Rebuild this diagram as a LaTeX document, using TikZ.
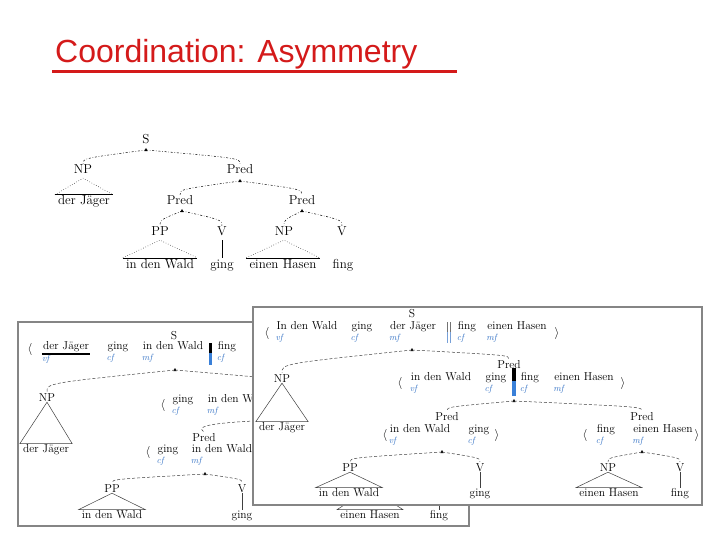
\documentclass[tikz,border=0pt]{standalone}
\usepackage{fontspec}
\newfontfamily\titlefont{Liberation Sans}
\usetikzlibrary{arrows.meta,positioning,calc}
\definecolor{titlered}{HTML}{D41A1A}
\definecolor{tagblue}{HTML}{3C78C8}
\definecolor{barblue}{HTML}{3A80D8}
\definecolor{framegray}{HTML}{858585}
\tikzset{
  cat/.style  ={inner sep=1pt,font=\fontsize{11.5}{13}\selectfont,text height=8pt,text depth=0pt},
  wd/.style   ={inner sep=1pt,font=\fontsize{11.5}{13}\selectfont,text height=8pt,text depth=2.5pt},
  tag/.style  ={inner sep=0pt,anchor=north west,text=tagblue,font=\fontsize{9}{10}\selectfont\itshape},
  ang/.style  ={inner sep=0pt,font=\fontsize{12}{14}\selectfont},
  tw/.style   ={inner sep=1pt,font=\fontsize{13}{15}\selectfont,text height=9pt,text depth=3pt},
  dbr/.style  ={draw=black!75,line width=.5pt,dash pattern=on 3pt off 2pt},
  ted/.style  ={draw=black,line width=.5pt,dash pattern=on 2pt off 1.8pt on .6pt off 1.8pt},
  tri/.style  ={draw=black!75,line width=.5pt},
  frame/.style={draw=framegray,line width=1.2pt,fill=white},
}
% small head mark below a mother node
\newcommand\hmark[1]{\fill ([yshift=2pt]#1) -- ++(-1.7pt,-3.2pt) -- ++(3.4pt,0pt) -- cycle;}
% branch from a head mark down to a daughter
\newcommand\br[3][dbr]{\draw[#1] (#2) .. controls ($(#3 |- #2)!.6!(#3)$) .. (#3);}
% roof over a word group
\newcommand\roof[2]{\draw[tri] (#1) -- ([xshift=-2pt]#2.north west) -- ([xshift=2pt]#2.north east) -- cycle;}
\newcommand\troof[2]{\draw[line width=.5pt,dotted] ([xshift=-2pt]#2.north west) -- (#1.south) -- ([xshift=2pt]#2.north east);
  \draw[line width=.6pt] ([xshift=-2pt]#2.north west) -- ([xshift=2pt]#2.north east);}
\begin{document}
\begin{tikzpicture}[x=1pt,y=1pt]
  \useasboundingbox (0,0) rectangle (720,-540);
  \fill[white] (0,0) rectangle (720,-540);
  % title
  \node[anchor=base west,inner sep=0pt,text=titlered,font=\titlefont\fontsize{32}{36}\selectfont]
        (title) at (55,-63) {Coordination: Asymmetry};
  \draw[titlered,line width=3pt] (52,-71.5) -- (457,-71.5);

  % top tree
  \node[tw] (s0) at (146,-141) {S};
  \coordinate (h0) at (146,-150); \hmark{h0}
  \node[tw] (np0) at (83,-171) {NP};
  \node[tw] (pr0) at (240,-171) {Pred};
  \br[ted]{h0}{np0.north}
  \br[ted]{h0}{pr0.north}
  \node[tw] (w0) at (84,-202) {der Jäger};
  \troof{np0}{w0}
  \coordinate (h01) at (240,-181); \hmark{h01}
  \node[tw] (pl0) at (180,-202) {Pred};
  \node[tw] (pr1) at (302,-202) {Pred};
  \br[ted]{h01}{pl0.north}
  \br[ted]{h01}{pr1.north}
  \coordinate (h02) at (182,-211); \hmark{h02}
  \coordinate (h03) at (302,-211); \hmark{h03}
  \node[tw] (pp0) at (160,-233) {PP};
  \node[tw] (v0) at (222,-233) {V};
  \node[tw] (np1) at (284,-233) {NP};
  \node[tw] (v1) at (342,-233) {V};
  \br[ted]{h02}{pp0.north}
  \br[ted]{h02}{v0.north}
  \br[ted]{h03}{np1.north}
  \br[ted]{h03}{v1.north}
  \node[tw] (w1) at (160,-265) {in den Wald};
  \node[tw] (w2) at (222,-265) {ging};
  \node[tw] (w3) at (283,-265) {einen Hasen};
  \node[tw] (w4) at (343,-265) {fing};
  \troof{pp0}{w1}
  \troof{np1}{w3}
  \draw[line width=.6pt] (v0) -- (w2);

  % left box
  \draw[frame] (18,-322) rectangle (469,-526);
  \node[cat] (lS) at (174,-335) {S};
  \node[ang] (lla1) at (30,-349) {$\langle$};
  \node[wd] (la1) at (66,-347) {der Jäger};
  \node[tag] (lt1) at ([yshift=-1.5pt]la1.south west) {vf};
  \draw[line width=1.3pt] ([yshift=-.5pt]la1.south west) -- ([yshift=-.5pt]la1.south east);
  \node[wd] (la2) at (118,-347) {ging};
  \node[tag] (lt2) at ([yshift=-1pt]la2.south west) {cf};
  \node[wd] (la3) at (173,-347) {in den Wald};
  \node[tag] (lt3) at ([yshift=-1pt]la3.south west) {mf};
  \fill[black] (209,-343) rectangle (212,-353);
  \fill[barblue] (209,-353) rectangle (212,-365);
  \node[wd] (la4) at (227,-347) {fing};
  \node[tag] (lt4) at ([yshift=-1pt]la4.south west) {cf};
  \coordinate (lh1) at (175,-370); \hmark{lh1}
  \node[cat] (lNP) at (47,-397) {NP};
  \coordinate (lx1) at (330,-392);
  \br{lh1}{lNP.north}
  \br{lh1}{lx1}
  \node[wd] (lw1) at (46,-450) {der Jäger};
  \roof{lNP.south}{lw1}
  \node[ang] (lla2) at (163,-405) {$\langle$};
  \node[wd] (lb1) at (183,-400) {ging};
  \node[tag] (ltb1) at ([yshift=-1pt]lb1.south west) {cf};
  \node[wd] (lb2) at (238,-400) {in den Wald};
  \node[tag] (ltb2) at ([yshift=-1pt]lb2.south west) {mf};
  \coordinate (lh2) at (330,-418);
  \node[cat] (lPr) at (204,-437) {Pred};
  \draw[dbr] (lh2) .. controls (240,-421) and (190,-423) .. (lPr.north);
  \node[ang] (lla3) at (148,-452) {$\langle$};
  \node[wd] (lc1) at (168,-450) {ging};
  \node[tag] (ltc1) at ([yshift=-1pt]lc1.south west) {cf};
  \node[wd] (lc2) at (222,-450) {in den Wald};
  \node[tag] (ltc2) at ([yshift=-1pt]lc2.south west) {mf};
  \coordinate (lh3) at (205,-474); \hmark{lh3}
  \node[cat] (lPP) at (112,-488) {PP};
  \node[cat] (lV) at (242,-488) {V};
  \br{lh3}{lPP.north}
  \br{lh3}{lV.north}
  \node[wd] (lw2) at (112,-516) {in den Wald};
  \roof{lPP.south}{lw2}
  \node[wd] (lw3) at (242,-516) {ging};
  \draw[tri] (lV) -- (lw3);
  \coordinate (lx3) at (370,-488);
  \node[wd] (lw4) at (370,-516) {einen Hasen};
  \roof{lx3}{lw4}
  \coordinate (lx4) at (439,-488);
  \node[wd] (lw5) at (439,-516) {fing};
  \draw[tri] (lx4) -- (lw5);

  % right box
  \draw[frame] (253,-307) rectangle (702,-505);
  \node[cat] (rS) at (412,-313) {S};
  \node[ang] (rla1) at (267,-333) {$\langle$};
  \node[wd] (a1) at (307,-327) {In den Wald};
  \node[tag] (ta1) at ([yshift=-1pt]a1.south west) {vf};
  \node[wd] (a2) at (362,-327) {ging};
  \node[tag] (ta2) at ([yshift=-1pt]a2.south west) {cf};
  \node[wd] (a3) at (413,-327) {der Jäger};
  \node[tag] (ta3) at ([yshift=-1pt]a3.south west) {mf};
  \draw[black!55,line width=.6pt] (447,-322) -- (447,-332) (450,-322) -- (450,-332);
  \draw[tagblue!70,line width=.6pt] (447,-332) -- (447,-343) (450,-332) -- (450,-343);
  \node[wd] (a4) at (467,-327) {fing};
  \node[tag] (ta4) at ([yshift=-1pt]a4.south west) {cf};
  \node[wd] (a5) at (517,-327) {einen Hasen};
  \node[tag] (ta5) at ([yshift=-1pt]a5.south west) {mf};
  \node[ang] (rra1) at (557,-333) {$\rangle$};
  \coordinate (rh1) at (412,-350); \hmark{rh1}
  \node[cat] (rNP) at (282,-378) {NP};
  \node[cat] (rPred) at (509,-364) {Pred};
  \br{rh1}{rNP.north}
  \br{rh1}{rPred.north}
  \node[wd] (rw1) at (282,-428) {der Jäger};
  \roof{rNP.south}{rw1}
  \node[ang] (rla2) at (400,-383) {$\langle$};
  \node[wd] (b1) at (441,-378) {in den Wald};
  \node[tag] (tb1) at ([yshift=-1pt]b1.south west) {vf};
  \node[wd] (b2) at (496,-378) {ging};
  \node[tag] (tb2) at ([yshift=-1pt]b2.south west) {cf};
  \fill[black] (512,-368) rectangle (516,-381);
  \fill[barblue] (512,-381) rectangle (516,-396);
  \node[wd] (b3) at (530,-378) {fing};
  \node[tag] (tb3) at ([yshift=-1pt]b3.south west) {cf};
  \node[wd] (b4) at (584,-378) {einen Hasen};
  \node[tag] (tb4) at ([yshift=-1pt]b4.south west) {mf};
  \node[ang] (rra2) at (623,-383) {$\rangle$};
  \coordinate (rh2) at (514,-401); \hmark{rh2}
  \node[cat] (rPl) at (447,-416) {Pred};
  \node[cat] (rPr) at (642,-416) {Pred};
  \br{rh2}{rPl.north}
  \br{rh2}{rPr.north}
  \node[ang] (rla3) at (385,-435) {$\langle$};
  \node[wd] (c1) at (420,-430) {in den Wald};
  \node[tag] (tc1) at ([yshift=-1pt]c1.south west) {vf};
  \node[wd] (c2) at (479,-430) {ging};
  \node[tag] (tc2) at ([yshift=-1pt]c2.south west) {cf};
  \node[ang] (rra3) at (497,-435) {$\rangle$};
  \node[ang] (rla4) at (585,-435) {$\langle$};
  \node[wd] (d1) at (606,-430) {fing};
  \node[tag] (td1) at ([yshift=-1pt]d1.south west) {cf};
  \node[wd] (d2) at (663,-430) {einen Hasen};
  \node[tag] (td2) at ([yshift=-1pt]d2.south west) {mf};
  \node[ang] (rra4) at (697,-435) {$\rangle$};
  \coordinate (rh3) at (442,-452); \hmark{rh3}
  \coordinate (rh4) at (642,-452); \hmark{rh4}
  \node[cat] (rPP) at (350,-467) {PP};
  \node[cat] (rV1) at (480,-467) {V};
  \node[cat] (rNP2) at (608,-467) {NP};
  \node[cat] (rV2) at (680,-467) {V};
  \br{rh3}{rPP.north}
  \br{rh3}{rV1.north}
  \br{rh4}{rNP2.north}
  \br{rh4}{rV2.north}
  \node[wd] (e1) at (349,-494) {in den Wald};
  \node[wd] (e2) at (480,-494) {ging};
  \node[wd] (e3) at (609,-494) {einen Hasen};
  \node[wd] (e4) at (680,-494) {fing};
  \roof{rPP.south}{e1}
  \roof{rNP2.south}{e3}
  \draw[tri] (rV1) -- (e2);
  \draw[tri] (rV2) -- (e4);
\end{tikzpicture}
\end{document}
